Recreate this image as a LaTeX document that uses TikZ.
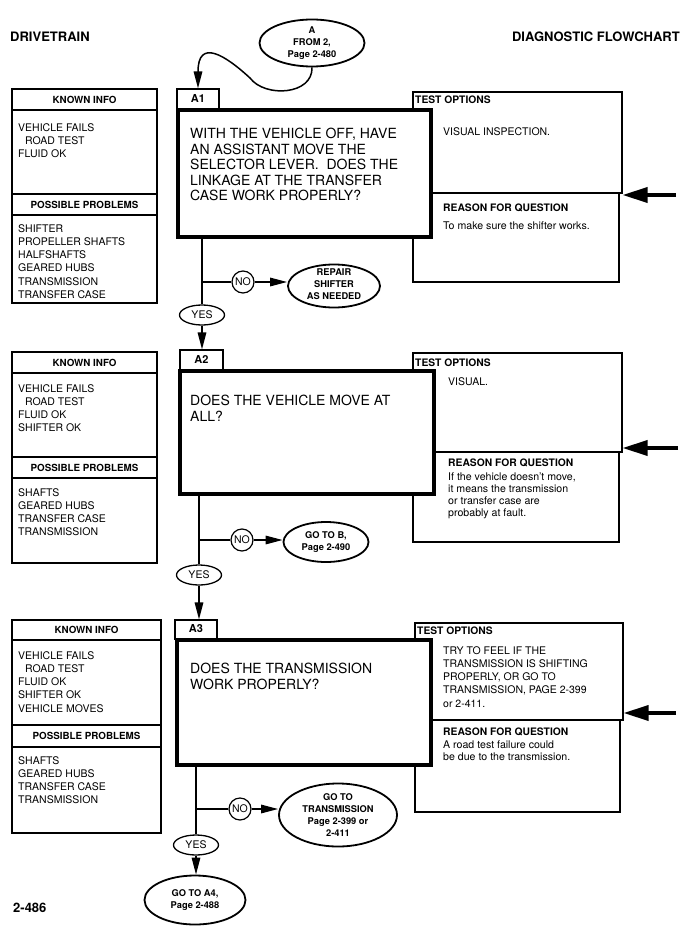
\documentclass[tikz,border=0pt]{standalone}
\usepackage{fontspec}
\setmainfont{TeX Gyre Heros}
\usetikzlibrary{shapes.geometric,arrows.meta,fit}
\newcommand{\fsz}[2]{\fontsize{#1}{#2}\selectfont}
\begin{document}
\begin{tikzpicture}[x=1pt,y=-1pt,
  tbox/.style={draw, line width=1.1pt, inner sep=0pt},
  qbox/.style={draw, line width=4pt, fill=white, inner sep=0pt},
  tabbox/.style={draw, line width=1.1pt, fill=white, inner sep=0pt},
  tabtxt/.style={inner sep=0pt, font=\bfseries\fsz{11}{12}},
  hdrtxt/.style={inner sep=0pt, font=\bfseries\fsz{9.8}{11}},
  listtxt/.style={anchor=north west, inner sep=0pt, align=left, font=\fsz{10.5}{13.2}},
  qtxt/.style={anchor=north west, inner sep=0pt, align=left, font=\fsz{14}{15.5}},
  subhdr/.style={anchor=west, inner sep=0pt, font=\bfseries\fsz{10.3}{12}},
  bodytxt/.style={anchor=west, inner sep=0pt, font=\fsz{10.5}{12}},
  smalltxt/.style={anchor=north west, inner sep=0pt, align=left, font=\fsz{10.6}{11.8}},
  testtxt/.style={anchor=north west, inner sep=0pt, align=left, font=\fsz{10.5}{13.25}},
  oval/.style={ellipse, draw, line width=1.8pt, inner sep=0pt},
  ovtxt/.style={inner sep=0pt, align=center, font=\bfseries\fsz{9.3}{12}},
  yesov/.style={ellipse, draw, line width=1.3pt, inner sep=0pt, minimum width=45pt, minimum height=20pt, font=\fsz{10.5}{12}},
  noc/.style={circle, draw, line width=1.2pt, inner sep=0pt, minimum size=22pt, font=\fsz{10.5}{12}},
  conn/.style={line width=1.5pt},
  arr/.style={line width=1.5pt, -{Triangle[length=17pt,width=8.5pt]}},
  bigarr/.style={line width=3.5pt, -{Triangle[length=25pt,width=15pt]}},
  ttl/.style={inner sep=0pt, font=\bfseries\fsz{13}{15}}
]
\fill[white] (0,0) rectangle (688,933);
\useasboundingbox (0,0) rectangle (688,933);

% titles
\node[ttl, anchor=west] (tleft) at (10,37) {DRIVETRAIN};
\node[ttl, anchor=east] (tright) at (680,37) {DIAGNOSTIC FLOWCHART};
\node[ttl, anchor=west] (pnum) at (13,908) {2-486};

% ================= BLOCK A1 =================
\node[tbox, fit={(12,89) (157,110)}] (k1) {};
\node[hdrtxt] (k1t) at (k1.center) {KNOWN INFO};
\node[tbox, fit={(12,110) (157,194)}] (kc1) {};
\node[listtxt] (kt1) at (18,123.2) {VEHICLE FAILS\\\hspace{7pt}ROAD TEST\\FLUID OK};
\node[tbox, fit={(12,194) (157,215)}] (p1) {};
\node[hdrtxt] (p1t) at (p1.center) {POSSIBLE PROBLEMS};
\node[tbox, fit={(12,215) (157,303)}] (pc1) {};
\node[listtxt] (pt1) at (18,224.2) {SHIFTER\\PROPELLER SHAFTS\\HALFSHAFTS\\GEARED HUBS\\TRANSMISSION\\TRANSFER CASE};

\node[tbox, fit={(413,92) (622,193)}] (to1) {};
\node[tbox, fit={(413,193) (619,282)}] (rq1) {};
\node[subhdr] (to1h) at (415,100) {TEST OPTIONS};
\node[bodytxt] (to1t) at (443,132) {VISUAL INSPECTION.};
\node[subhdr] (rq1h) at (443,208) {REASON FOR QUESTION};
\node[smalltxt] (rq1t) at (443,222) {To make sure the shifter works.};

\node[qbox, fit={(178,110) (431,237)}] (q1) {};
\node[tabbox, fit={(177,89) (219,109)}] (t1) {};
\node[tabtxt] (t1t) at (198,98.5) {A1};
\node[qtxt] (q1t) at (190,128) {WITH THE VEHICLE OFF, HAVE\\AN ASSISTANT MOVE THE\\SELECTOR LEVER.\ \ DOES THE\\LINKAGE AT THE TRANSFER\\CASE WORK PROPERLY?};

\coordinate (ra1) at (676,195);
\draw[bigarr] (ra1) -- (ra1 -| to1.east);

\node[oval, minimum width=105pt, minimum height=47pt] (oA) at (312,43) {};
\node[ovtxt] (oAt) at (oA.center) {A\\FROM 2,\\Page 2-480};
\draw[arr] (oA.south) .. controls (313,95) and (265,98) .. (250,78) .. controls (225,55) and (198,38) .. (t1.north);

\node[yesov] (y1) at (202,315) {YES};
\node[noc] (n1) at (243,282) {NO};
\node[oval, minimum width=92pt, minimum height=43pt] (r1) at (334,286) {};
\node[ovtxt] (r1t) at (334,284) {REPAIR\\SHIFTER\\AS NEEDED};
\draw[conn] (q1.south -| y1) -- (y1.north);
\draw[conn] (y1 |- n1) -- (n1.west);
\draw[arr] (n1.east) -- (n1.east -| r1.west);

% ================= BLOCK A2 =================
\node[tbox, fit={(12,352) (157,373)}] (k2) {};
\node[hdrtxt] (k2t) at (k2.center) {KNOWN INFO};
\node[tbox, fit={(12,373) (157,457)}] (kc2) {};
\node[listtxt] (kt2) at (18,384.2) {VEHICLE FAILS\\\hspace{7pt}ROAD TEST\\FLUID OK\\SHIFTER OK};
\node[tbox, fit={(12,457) (157,478)}] (p2) {};
\node[hdrtxt] (p2t) at (p2.center) {POSSIBLE PROBLEMS};
\node[tbox, fit={(12,478) (157,563)}] (pc2) {};
\node[listtxt] (pt2) at (18,488.2) {SHAFTS\\GEARED HUBS\\TRANSFER CASE\\TRANSMISSION};

\node[tbox, fit={(413,353) (622,452)}] (to2) {};
\node[tbox, fit={(413,452) (619,542)}] (rq2) {};
\node[subhdr] (to2h) at (415,363) {TEST OPTIONS};
\node[bodytxt] (to2t) at (448,382) {VISUAL.};
\node[subhdr] (rq2h) at (448,463) {REASON FOR QUESTION};
\node[smalltxt] (rq2t) at (448,473) {If the vehicle doesn't move,\\it means the transmission\\or transfer case are\\probably at fault.};

\node[qbox, fit={(180,371) (434,494)}] (q2) {};
\node[tabbox, fit={(180,350) (223,370)}] (t2) {};
\node[tabtxt] (t2t) at (201.5,359.5) {A2};
\node[qtxt] (q2t) at (190,395) {DOES THE VEHICLE MOVE AT\\ALL?};

\coordinate (ra2) at (678,448);
\draw[bigarr] (ra2) -- (ra2 -| to2.east);

\draw[arr] (y1.south) -- (y1.south |- t2.north);

\node[yesov] (y2) at (199,575) {YES};
\node[noc] (n2) at (242,540) {NO};
\node[oval, minimum width=85pt, minimum height=40pt] (g2) at (326,542) {};
\node[ovtxt] (g2t) at (g2.center) {GO TO B,\\Page 2-490};
\draw[conn] (q2.south -| y2) -- (y2.north);
\draw[conn] (y2 |- n2) -- (n2.west);
\draw[arr] (n2.east) -- (n2.east -| g2.west);

% ================= BLOCK A3 =================
\node[tbox, fit={(12,620) (161,640)}] (k3) {};
\node[hdrtxt] (k3t) at (k3.center) {KNOWN INFO};
\node[tbox, fit={(12,640) (161,725)}] (kc3) {};
\node[listtxt] (kt3) at (18,651.2) {VEHICLE FAILS\\\hspace{7pt}ROAD TEST\\FLUID OK\\SHIFTER OK\\VEHICLE MOVES};
\node[tbox, fit={(12,725) (161,747)}] (p3) {};
\node[hdrtxt] (p3t) at (p3.center) {POSSIBLE PROBLEMS};
\node[tbox, fit={(12,747) (161,833)}] (pc3) {};
\node[listtxt] (pt3) at (18,756.2) {SHAFTS\\GEARED HUBS\\TRANSFER CASE\\TRANSMISSION};

\node[tbox, fit={(415,623) (623,720)}] (to3) {};
\node[tbox, fit={(415,720) (620,812)}] (rq3) {};
\node[subhdr] (to3h) at (417,631) {TEST OPTIONS};
\node[testtxt] (to3t) at (443,646) {TRY TO FEEL IF THE\\TRANSMISSION IS SHIFTING\\PROPERLY, OR GO TO\\TRANSMISSION, PAGE 2-399\\or 2-411.};
\node[subhdr] (rq3h) at (443,732) {REASON FOR QUESTION};
\node[smalltxt] (rq3t) at (443,741) {A road test failure could\\be due to the transmission.};

\node[qbox, fit={(177,640) (431,765)}] (q3) {};
\node[tabbox, fit={(175,620) (217,639)}] (t3) {};
\node[tabtxt] (t3t) at (196,629) {A3};
\node[qtxt] (q3t) at (190,663) {DOES THE TRANSMISSION\\WORK PROPERLY?};

\coordinate (ra3) at (676,713);
\draw[bigarr] (ra3) -- (ra3 -| to3.east);

\draw[arr] (y2.south) -- (y2.south |- t3.north);

\node[yesov] (y3) at (196,845) {YES};
\node[noc] (n3) at (240,809) {NO};
\node[oval, minimum width=118pt, minimum height=63pt] (g3) at (338,815) {};
\node[ovtxt] (g3t) at (g3.center) {GO TO\\TRANSMISSION\\Page 2-399 or\\2-411};
\draw[conn] (q3.south -| y3) -- (y3.north);
\draw[conn] (y3 |- n3) -- (n3.west);
\draw[arr] (n3.east) -- (n3.east -| g3.west);

\node[oval, minimum width=101pt, minimum height=49pt] (a4) at (195,900) {};
\node[ovtxt] (a4t) at (a4.center) {GO TO A4,\\Page 2-488};
\draw[arr] (y3.south) -- (y3.south |- a4.north);
\end{tikzpicture}
\end{document}
